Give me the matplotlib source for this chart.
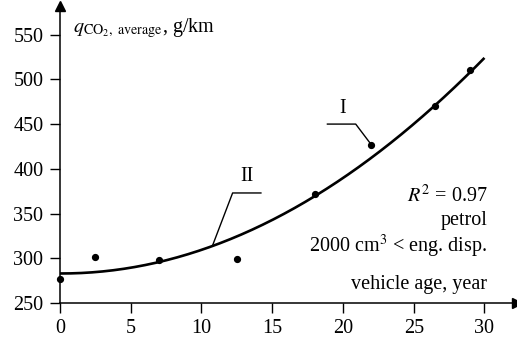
import numpy as np
import matplotlib
matplotlib.use("Agg")
import matplotlib.pyplot as plt

plt.rcParams["font.family"] = "Liberation Serif"
plt.rcParams["mathtext.fontset"] = "stix"

# measured points
age = [0, 2.5, 7, 12.5, 18, 22, 26.5, 29]
co2 = [277, 301, 298, 299, 372, 427, 470, 510]

# quadratic trend, R^2 = 0.97
trend_coef = [0.2697, -0.058, 283]
trend_range = (0, 30)

xticks = [0, 5, 10, 15, 20, 25, 30]
yticks = [250, 300, 350, 400, 450, 500, 550]

fig = plt.figure(figsize=(5.17, 3.40), dpi=100)
ax = fig.add_axes([60 / 517, 37 / 340, 457 / 517, 297 / 340])

xs = np.linspace(*trend_range, 200)
ax.plot(xs, np.polyval(trend_coef, xs), color="black", lw=1.9, solid_capstyle="butt")
ax.plot(age, co2, "o", color="black", ms=4.2, clip_on=False, zorder=5)

ax.set_xlim(0, 32.3)
ax.set_ylim(250, 582)
ax.set_xticks(xticks)
ax.set_yticks(yticks)
ax.tick_params(labelsize=14.5, length=7, width=1.0, direction="out")
ax.tick_params(axis="x", pad=4.5)
ax.tick_params(axis="y", pad=5)
for side in ("top", "right"):
    ax.spines[side].set_visible(False)
for side in ("left", "bottom"):
    ax.spines[side].set_linewidth(1.1)

# axis arrows
ax.plot(1, 250, ">", color="black", ms=7, transform=ax.get_yaxis_transform(), clip_on=False)
ax.plot(0, 1, "^", color="black", ms=7, transform=ax.get_xaxis_transform(), clip_on=False)

# labels
ax.text(0.9, 557, r"$q_{\mathrm{CO_2},\ \mathrm{average}}$, g/km", fontsize=14.5,
        ha="left", va="center")
ax.text(30.2, 260, "vehicle age, year", fontsize=14.5, ha="right", va="bottom")
ax.text(30.2, 370, r"$R^2$ = 0.97", fontsize=14.5, ha="right", va="center")
ax.text(30.2, 342, "petrol", fontsize=14.5, ha="right", va="center")
ax.text(30.2, 313, r"2000 cm$^3$ < eng. disp.", fontsize=14.5, ha="right", va="center")

# leader labels
ax.plot([18.9, 20.9, 22], [450, 450, 427], color="black", lw=1.0)
ax.text(19.95, 467, "I", fontsize=14.5, ha="center", va="center")
ax.plot([14.2, 12.2, 10.8], [373, 373, 315], color="black", lw=1.0)
ax.text(13.2, 391, "II", fontsize=14.5, ha="center", va="center")

fig.savefig("out.png", dpi=100)
